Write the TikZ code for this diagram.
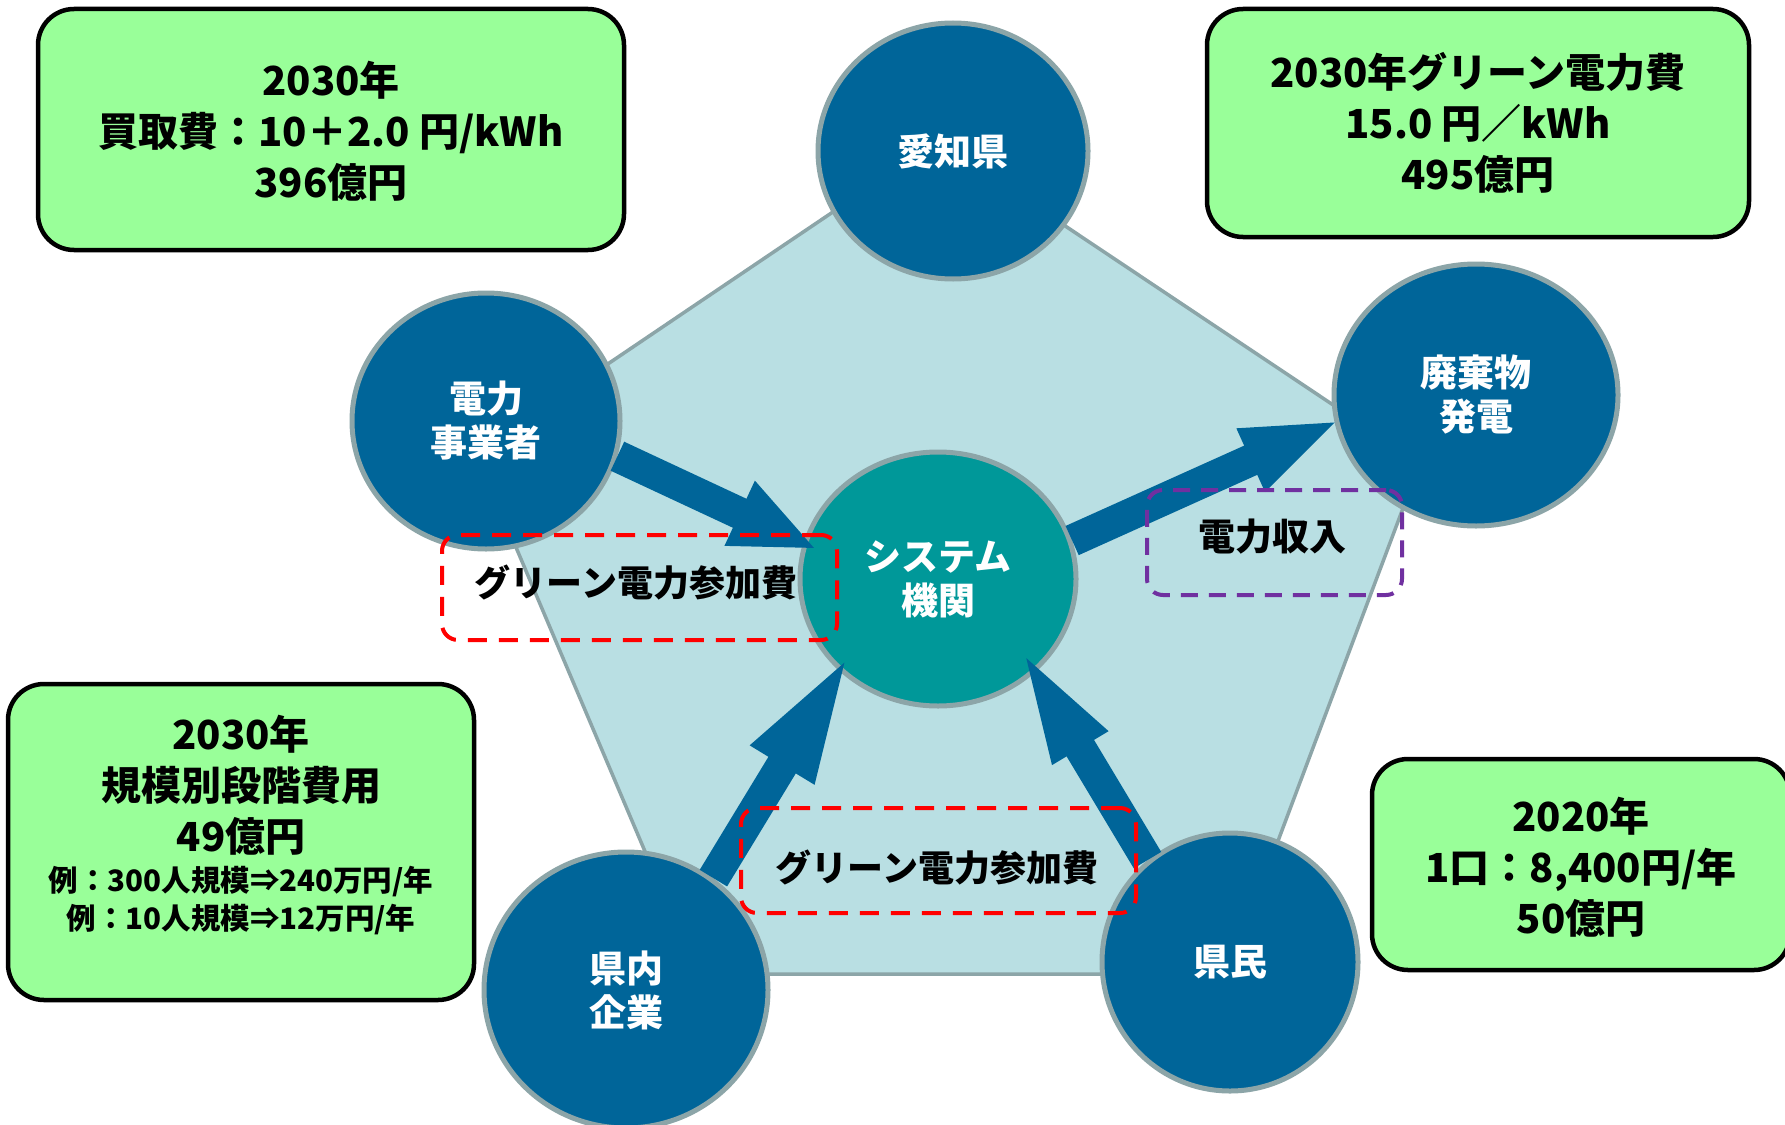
\documentclass[tikz,border=0pt]{standalone}
\usepackage{fontspec}
\setmainfont{Noto Sans CJK JP}
\usetikzlibrary{shapes.geometric,calc}
\definecolor{dblue}{RGB}{0,101,153}
\definecolor{tealc}{RGB}{0,152,153}
\definecolor{pfill}{RGB}{185,223,227}
\definecolor{bgray}{RGB}{140,165,168}
\definecolor{gfill}{RGB}{153,255,153}
\definecolor{purp}{RGB}{112,48,160}
\newcommand{\blockarrow}[4]{%
  \coordinate (bA) at #1;
  \coordinate (bB) at #2;
  \coordinate (bC) at ($(bB)!#3!(bA)$);
  \draw[shaftline] (bA) -- ($(bC)!-2pt!(bA)$);
  \fill[headfill] (bB) -- ($(bC)!#4!90:(bB)$) -- ($(bC)!#4!-90:(bB)$) -- cycle;
}
\begin{document}
\begin{tikzpicture}[x=1pt,y=-1pt,
  gbox/.style={draw=black, line width=4.5pt, fill=gfill, rounded corners=36pt, inner sep=0pt},
  circ/.style={ellipse, draw=bgray, line width=5pt, fill=dblue, inner sep=0pt, text=white, align=center, font=\fontsize{37}{44}\selectfont\bfseries},
  btext/.style={align=center, text=black, inner sep=0pt, font=\fontsize{40}{51}\selectfont\bfseries},
  stext/.style={align=center, text=black, inner sep=0pt, font=\fontsize{29.5}{38}\selectfont\bfseries},
  dbox/.style={rectangle, rounded corners=16pt, line width=4pt, dash pattern=on 19pt off 12pt, inner sep=0pt},
  dtext/.style={align=center, text=black, inner sep=0pt, font=\fontsize{36}{40}\selectfont\bfseries},
  shaftline/.style={draw=dblue, line width=32pt},
  headfill/.style={fill=dblue},
]
\useasboundingbox (0,0) rectangle (1785,1124);
\clip (0,0) rectangle (1785,1124);
\fill[white] (0,0) rectangle (1785,1124);

% pentagon
\filldraw[fill=pfill, draw=bgray, line width=3.5pt, line join=miter]
  (938,141) -- (1420,463) -- (1228,974) -- (697,974) -- (476,453) -- cycle;

% green boxes
\node[gbox, minimum width=586pt, minimum height=241pt] (b1) at (331,129.5) {};
\node[btext] (t1) at (331,131) {2030年\\買取費：10＋2.0 円/kWh\\396億円};
\node[gbox, minimum width=542pt, minimum height=228pt] (b2) at (1478,123) {};
\node[btext] (t2) at (1478,123) {2030年グリーン電力費\\15.0 円／kWh\\495億円};
\node[gbox, minimum width=466pt, minimum height=316pt] (b3) at (241,842) {};
\node[btext] (t3) at (241,785) {2030年\\規模別段階費用\\49億円};
\node[stext] (t3b) at (241,901) {例：300人規模⇒240万円/年\\例：10人規模⇒12万円/年};
\node[gbox, minimum width=418pt, minimum height=211pt] (b4) at (1581,864.5) {};
\node[btext] (t4) at (1581,867) {2020年\\1口：8,400円/年\\50億円};

% circles
\node[circ, minimum width=270pt, minimum height=256pt] (aichi) at (953,151) {愛知県};
\node[circ, minimum width=268pt, minimum height=256pt] (jigyo) at (486,421) {電力\\事業者};
\node[circ, minimum width=284pt, minimum height=262pt] (haiki) at (1476,395) {廃棄物\\発電};
\node[circ, fill=tealc, minimum width=276pt, minimum height=254pt] (sys) at (938,579) {システム\\機関};
\node[circ, minimum width=284pt, minimum height=276pt] (kennai) at (626,990) {県内\\企業};
\node[circ, minimum width=256pt, minimum height=258pt] (kenmin) at (1230,962) {県民};

% arrows
\blockarrow{(jigyo.-15)}{($(sys.165)!-12pt!(jigyo.-15)$)}{82pt}{36pt}
\blockarrow{(sys.16)}{(haiki.191)}{92pt}{35pt}
\blockarrow{(kennai.52)}{($(sys.223)!-10pt!(kennai.52)$)}{120pt}{38pt}
\blockarrow{(kenmin.129)}{($(sys.-44)!-17pt!(kenmin.129)$)}{105pt}{33pt}

% dashed boxes
\node[dbox, draw=red, minimum width=395pt, minimum height=105pt] (r1) at (639.5,587.5) {};
\node[dtext] (r1t) at (636,583) {グリーン電力参加費};
\node[dbox, draw=red, minimum width=395pt, minimum height=105pt] (r2) at (938.5,860.5) {};
\node[dtext] (r2t) at (937,868) {グリーン電力参加費};
\node[dbox, draw=purp, dash pattern=on 17pt off 11pt, minimum width=255pt, minimum height=105pt] (p1) at (1274.5,542.5) {};
\node[dtext, font=\fontsize{37}{40}\selectfont\bfseries] (p1t) at (1272,537) {電力収入};
\end{tikzpicture}
\end{document}
